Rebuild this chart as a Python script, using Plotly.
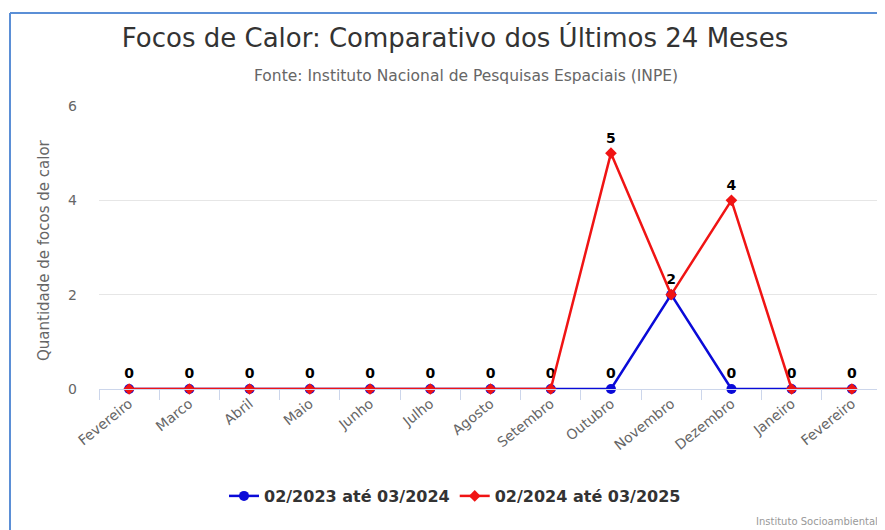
import plotly.graph_objects as go

months = ["Fevereiro", "Marco", "Abril", "Maio", "Junho", "Julho", "Agosto",
          "Setembro", "Outubro", "Novembro", "Dezembro", "Janeiro", "Fevereiro"]
serie_2023 = [0, 0, 0, 0, 0, 0, 0, 0, 0, 2, 0, 0, 0]
serie_2024 = [0, 0, 0, 0, 0, 0, 0, 0, 5, 2, 4, 0, 0]
name_2023 = "02/2023 até 03/2024"
name_2024 = "02/2024 até 03/2025"
y_ticks = [0, 2, 4, 6]

x = list(range(len(months)))

# one label per category: blue series shows its values, red shows where it differs
labels_2023 = [str(v) for v in serie_2023]
labels_2024 = [str(b) if b != a else "" for a, b in zip(serie_2023, serie_2024)]

BLUE = "#0a0ad8"
RED = "#f01414"

fig = go.Figure()
fig.add_trace(go.Scatter(
    x=x, y=serie_2023, name=name_2023, mode="lines+markers+text",
    line=dict(color=BLUE, width=2.5),
    marker=dict(symbol="circle", size=10, color=BLUE),
    text=labels_2023, textposition="top center",
    textfont=dict(family="DejaVu Sans", size=14, color="#000000", weight="bold"),
    cliponaxis=False, hoverinfo="skip"))
fig.add_trace(go.Scatter(
    x=x, y=serie_2024, name=name_2024, mode="lines+markers+text",
    line=dict(color=RED, width=2.5),
    marker=dict(symbol="diamond", size=9, color=RED),
    text=labels_2024, textposition="top center",
    textfont=dict(family="DejaVu Sans", size=14, color="#000000", weight="bold"),
    cliponaxis=False, hoverinfo="skip"))

# page body has an 8px margin; work in window pixels and convert
OFF = 8
WIN_W, WIN_H = 885, 530
W, H = WIN_W - OFF, WIN_H - OFF
PL, PR, PT, PB = 99, 882, 106, 389  # plot area in window pixels
L, R, T, B = PL - OFF, W - (PR - OFF), PT - OFF, H - (PB - OFF)
pw, ph = PR - PL, PB - PT

def px_x(p):
    return (p - PL) / pw

def px_y(p):
    return (PB - p) / ph

fig.update_layout(
    width=W, height=H,
    margin=dict(l=L, r=R, t=T, b=B, pad=0),
    paper_bgcolor="white", plot_bgcolor="white",
    font=dict(family="DejaVu Sans", color="#666666"),
    title=dict(text="Focos de Calor: Comparativo dos Últimos 24 Meses",
               x=(455 - OFF) / W, xanchor="center", y=1 - (38 - OFF) / H, yanchor="middle",
               font=dict(family="DejaVu Sans", size=26, color="#333333")),
    showlegend=True,
    legend=dict(orientation="h", x=px_x(455), xanchor="center",
                y=px_y(496), yanchor="middle",
                font=dict(family="DejaVu Sans", size=16, color="#333333", weight="bold"),
                itemwidth=30, tracegroupgap=0, bgcolor="rgba(0,0,0,0)"),
    xaxis=dict(range=[-0.5, 12.5], tickmode="array", tickvals=x, ticktext=months,
               tickangle=-39, ticks="", showgrid=False, zeroline=False,
               showline=True, linecolor="#ccd6eb", linewidth=1,
               tickfont=dict(family="DejaVu Sans", size=14, color="#666666"),
               minor=dict(tickmode="array", tickvals=[i - 0.5 for i in range(14)],
                          ticks="outside", ticklen=10, tickcolor="#ccd6eb",
                          tickwidth=1, showgrid=False),
               fixedrange=True),
    yaxis=dict(range=[0, 6], tickmode="array", tickvals=y_ticks,
               ticktext=[str(v) for v in y_ticks],
               showgrid=True, gridcolor="#e6e6e6", gridwidth=1, zeroline=False,
               showline=False, ticks="", ticklabelstandoff=21,
               tickfont=dict(family="DejaVu Sans", size=14, color="#666666"),
               fixedrange=True),
    annotations=[
        dict(text="Fonte: Instituto Nacional de Pesquisas Espaciais (INPE)",
             xref="paper", yref="paper", x=px_x(466), y=px_y(76),
             xanchor="center", yanchor="middle", showarrow=False,
             font=dict(family="DejaVu Sans", size=15.5, color="#666666")),
        dict(text="Quantidade de focos de calor", textangle=-90,
             xref="paper", yref="paper", x=px_x(44), y=px_y(250),
             xanchor="center", yanchor="middle", showarrow=False,
             font=dict(family="DejaVu Sans", size=15, color="#666666")),
        dict(text="Instituto Socioambiental",
             xref="paper", yref="paper", x=px_x(880), y=px_y(521),
             xanchor="right", yanchor="middle", showarrow=False,
             font=dict(family="DejaVu Sans", size=10, color="#999999")),
    ],
    shapes=[
        dict(type="line", xref="paper", yref="paper",
             x0=px_x(10), x1=px_x(885), y0=px_y(13), y1=px_y(13),
             line=dict(color="#5b8fd6", width=2)),
        dict(type="line", xref="paper", yref="paper",
             x0=px_x(10), x1=px_x(10), y0=px_y(13), y1=px_y(530),
             line=dict(color="#5b8fd6", width=2)),
    ],
)

fig.write_html("out.html")
